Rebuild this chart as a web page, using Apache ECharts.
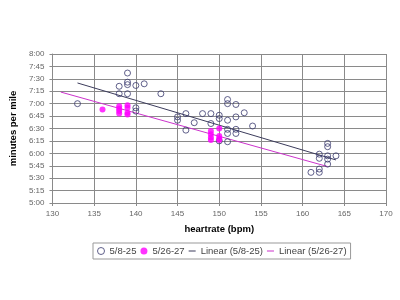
<!DOCTYPE html>
<html>
<head>
<meta charset="utf-8">
<script src="https://cdn.jsdelivr.net/npm/echarts@6/dist/echarts.min.js"></script>
<style>html,body{margin:0;padding:0;background:#fff}#c{width:400px;height:300px}</style>
</head>
<body>
<div id="c"></div>
<script>
// 5/8-25 (open circles)
const bpmA = [133,138,138,139,139,139,139,140,140,140,141,143,145,145,146,146,147,148,149,149,150,150,150,151,151,151,151,151,151,152,152,152,152,153,154,161,162,162,162,162,163,163,163,163,163,164];
const paceA = ['7:00','7:21','7:12','7:37','7:26','7:23','7:12','7:22','6:55','6:51','7:24','7:12','6:44','6:40','6:48','6:28','6:37','6:48','6:48','6:36','6:46','6:42','6:15','7:05','7:00','6:40','6:29','6:24','6:14','6:59','6:44','6:29','6:24','6:49','6:33','5:37','5:59','5:54','5:41','5:37','6:12','6:08','5:57','5:53','5:47','5:57'];
// 5/26-27 (filled magenta)
const bpmB = [136,138,138,138,138,139,139,139,139,149,149,149,149,150,150,150,150];
const paceB = ['6:53','6:57','6:54','6:51','6:48','6:58','6:55','6:49','6:47','6:27','6:23','6:19','6:16','6:30','6:21','6:18','6:16'];
// Linear trendlines (end points)
const trendBpmA = [133,164];
const trendPaceA = ['7:25','5:52'];
const trendBpmB = [131,163];
const trendPaceB = ['7:14','5:44'];
// axis ticks
const xTicks = [130,135,140,145,150,155,160,165,170];
const yTicks = ['5:00','5:15','5:30','5:45','6:00','6:15','6:30','6:45','7:00','7:15','7:30','7:45','8:00'];
const names = ['5/8-25','5/26-27','Linear (5/8-25)','Linear (5/26-27)'];

function toSec(s){const p=s.split(':');return (+p[0])*60+(+p[1]);}
function fmt(v){const m=Math.floor(v/60), s=Math.round(v-m*60);return m+':'+String(s).padStart(2,'0');}
function pairs(xs,ys){return xs.map((x,i)=>[x,toSec(ys[i])]);}

const yMin = toSec(yTicks[0]), yMax = toSec(yTicks[yTicks.length-1]);
const yStep = toSec(yTicks[1]) - yMin;

const chart = echarts.init(document.getElementById('c'), null, {renderer:'canvas'});
const gridColor = '#8a8a8a';
const labelFont = 'Arial, "Liberation Sans", sans-serif';
const colA = '#3a3a6e', colB = '#ff00ff', colTA = '#3c3c5c', colTB = '#cc33cc';
const lineIcon = 'path://M0,0L0.01,0L0,0ZM0,4.4L10,4.4L10,5.6L0,5.6ZM10,10L9.99,10L10,10Z';
chart.setOption({
  animation:false,
  backgroundColor:'#fff',
  grid:{left:50,right:14,top:54,bottom:97,containLabel:false},
  xAxis:{
    type:'value', min:xTicks[0], max:xTicks[xTicks.length-1], interval:xTicks[1]-xTicks[0],
    name:'heartrate (bpm)', nameLocation:'middle', nameGap:21,
    nameTextStyle:{fontFamily:labelFont,fontSize:9.5,fontWeight:'bold',color:'#000'},
    axisLine:{show:true,lineStyle:{color:gridColor,width:1}},
    axisTick:{show:true,length:3,lineStyle:{color:gridColor}},
    axisLabel:{fontFamily:labelFont,fontSize:8,color:'#666',margin:7},
    splitLine:{show:true,lineStyle:{color:gridColor,width:1}}
  },
  yAxis:{
    type:'value', min:yMin, max:yMax, interval:yStep,
    name:'minutes per mile', nameLocation:'middle', nameGap:30,
    nameTextStyle:{fontFamily:labelFont,fontSize:9.5,fontWeight:'bold',color:'#000'},
    axisLine:{show:true,lineStyle:{color:gridColor,width:1}},
    axisTick:{show:true,length:3,lineStyle:{color:gridColor}},
    axisLabel:{fontFamily:labelFont,fontSize:8,color:'#666',margin:8,formatter:fmt},
    splitLine:{show:true,lineStyle:{color:gridColor,width:1}}
  },
  legend:{
    left:93, top:243,
    data:[
      {name:names[0],icon:'circle',itemStyle:{color:'rgba(255,255,255,0)',borderColor:colA,borderWidth:1}},
      {name:names[1],icon:'circle',itemStyle:{color:colB,borderWidth:0}},
      {name:names[2],icon:lineIcon,itemStyle:{color:colTA,borderWidth:0}},
      {name:names[3],icon:lineIcon,itemStyle:{color:colTB,borderWidth:0}}
    ],
    itemWidth:7, itemHeight:7, itemGap:4,
    padding:[3,4],
    borderColor:'#999', borderWidth:1,
    textStyle:{fontFamily:labelFont,fontSize:9.5,color:'#444'}
  },
  series:[
    {name:names[0],type:'scatter',symbol:'circle',symbolSize:6,z:3,
     itemStyle:{color:'rgba(255,255,255,0)',borderColor:colA,borderWidth:1},
     data:pairs(bpmA,paceA)},
    {name:names[1],type:'scatter',symbol:'circle',symbolSize:6,z:4,
     itemStyle:{color:colB,borderColor:colB,borderWidth:0},
     data:pairs(bpmB,paceB)},
    {name:names[2],type:'line',showSymbol:false,symbol:'none',z:2,
     lineStyle:{color:colTA,width:1},itemStyle:{color:colTA},
     data:pairs(trendBpmA,trendPaceA)},
    {name:names[3],type:'line',showSymbol:false,symbol:'none',z:2,
     lineStyle:{color:colTB,width:1},itemStyle:{color:colTB},
     data:pairs(trendBpmB,trendPaceB)}
  ]
});
</script>
</body>
</html>
